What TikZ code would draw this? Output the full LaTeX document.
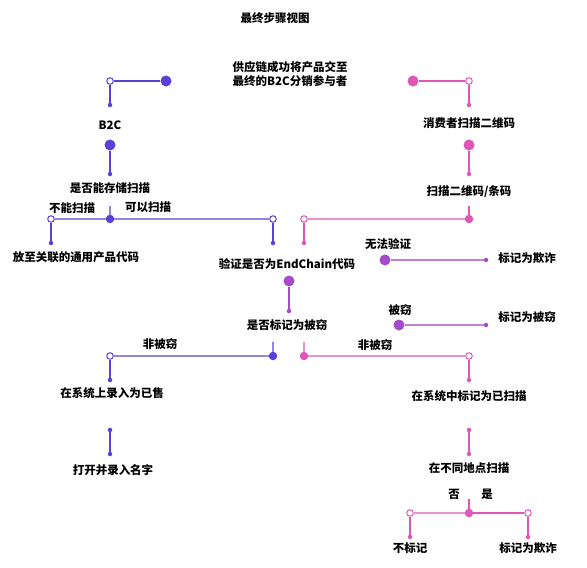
\documentclass[tikz,border=0pt]{standalone}
\usepackage{fontspec}
\setmainfont{Noto Sans CJK SC}
\definecolor{bluev}{HTML}{5B3FD6}
\definecolor{bluel}{HTML}{9386E2}
\definecolor{pinkv}{HTML}{E056B8}
\definecolor{pinkl}{HTML}{E892CE}
\definecolor{violv}{HTML}{A44CC9}
\definecolor{violl}{HTML}{BE82D6}
\tikzset{
	bigdot/.style={circle,fill=#1,inner sep=0pt,minimum size=11pt},
	middot/.style={circle,fill=#1,inner sep=0pt,minimum size=8.5pt},
	smalldot/.style={circle,fill=#1,inner sep=0pt,minimum size=4.5pt},
	opendot/.style={circle,draw=#1,fill=white,line width=1pt,inner sep=0pt,minimum size=6.5pt},
	lbl/.style={font=\bfseries\fontsize{11.5}{14}\selectfont,inner sep=0pt,align=center},
	link/.style={draw=#1,line width=1.8pt},
	thin link/.style={draw=#1,line width=1.3pt}
}
\begin{document}
\begin{tikzpicture}[x=1pt,y=-1pt]
	\useasboundingbox (0,0) rectangle (587,568);
	%
	\node[lbl] (title) at (275,18) {最终步骤视图};
	\node[lbl] (start) at (290,74) {供应链成功将产品交至\\最终的B2C分销参与者};
	%
	% left branch: B2C
	\node[bigdot=bluev] (b0) at (166,81) {};
	\node[opendot=bluev] (b1) at (110,81) {};
	\node[smalldot=bluev] (b2) at (110,105) {};
	\node[lbl] (b2c) at (110,125) {B2C};
	\node[bigdot=bluev] (b3) at (110,145) {};
	\node[smalldot=bluev] (b4) at (110,174) {};
	\node[lbl] (canstore) at (110,188) {是否能存储扫描};
	\node[lbl] (noscan) at (72,208) {不能扫描};
	\node[lbl] (yesscan) at (148,207) {可以扫描};
	\coordinate (b5t) at (110,206);
	\node[middot=bluev] (b5) at (110,219) {};
	\node[opendot=bluev] (b6) at (51,219) {};
	\node[smalldot=bluev] (b7) at (51,243) {};
	\node[lbl] (upc) at (76,257) {放至关联的通用产品代码};
	\node[opendot=bluev] (b8) at (273,219) {};
	\node[smalldot=bluev] (b9) at (273,243) {};
	\draw[link=bluev] (b0) -- (b1) -- (b2) (b3) -- (b4);
	\draw[thin link=bluel] (b5t) -- (b5);
	\draw[thin link=bluel] (b6) -- (b5) -- (b8);
	\draw[link=bluev] (b6) -- (b7) (b8) -- (b9);
	%
	% right branch: consumer
	\node[bigdot=pinkv] (p0) at (413,81) {};
	\node[opendot=pinkv] (p1) at (469,81) {};
	\node[smalldot=pinkv] (p2) at (469,105) {};
	\node[lbl] (consumer) at (469,123) {消费者扫描二维码};
	\node[bigdot=pinkv] (p3) at (469,145) {};
	\node[smalldot=pinkv] (p4) at (469,174) {};
	\node[lbl] (scanqr) at (469,192) {扫描二维码/条码};
	\coordinate (p5t) at (469,206);
	\node[middot=pinkv] (p5) at (469,219) {};
	\node[opendot=pinkv] (p6) at (304,219) {};
	\node[smalldot=pinkv] (p7) at (304,243) {};
	\draw[link=pinkv] (p0) -- (p1) -- (p2) (p3) -- (p4) (p5t) -- (p5);
	\draw[thin link=pinkl] (p5) -- (p6);
	\draw[link=pinkv] (p6) -- (p7);
	%
	% middle: verify
	\node[lbl] (verify) at (287,264) {验证是否为EndChain代码};
	\node[lbl] (cannot) at (388,244) {无法验证};
	\node[bigdot=violv] (v0) at (385,260) {};
	\node[smalldot=violv] (v1) at (486,260) {};
	\node[lbl] (fraud1) at (527,258) {标记为欺诈};
	\node[bigdot=violv] (v2) at (289,281) {};
	\node[smalldot=violv] (v3) at (289,311) {};
	\node[lbl] (stolenq) at (287,325) {是否标记为被窃};
	\node[lbl] (stolen) at (400,310) {被窃};
	\node[bigdot=violv] (v4) at (399,325) {};
	\node[smalldot=violv] (v5) at (486,325) {};
	\node[lbl] (markstolen) at (527,317) {标记为被窃};
	\draw[thin link=violl] (v0) -- (v1) (v4) -- (v5);
	\draw[link=violv] (v2) -- (v3);
	%
	% not stolen, left
	\node[lbl] (notstolenl) at (160,344) {非被窃};
	\coordinate (c0t) at (273,342);
	\node[middot=bluev] (c0) at (273,356) {};
	\node[opendot=bluev] (c1) at (110,356) {};
	\node[smalldot=bluev] (c2) at (110,380) {};
	\node[lbl] (sold) at (112,393) {在系统上录入为已售};
	\node[smalldot=bluev] (c3) at (110,430) {};
	\node[smalldot=bluev] (c4) at (110,454) {};
	\node[lbl] (name) at (113,470) {打开并录入名字};
	\draw[thin link=bluel] (c0t) -- (c0) (c0) -- (c1);
	\draw[link=bluev] (c1) -- (c2);
	\draw[thin link=bluev] (c3) -- (c4);
	%
	% not stolen, right
	\node[lbl] (notstolenr) at (375,345) {非被窃};
	\coordinate (d0t) at (304,342);
	\node[middot=pinkv] (d0) at (304,356) {};
	\node[opendot=pinkv] (d1) at (469,356) {};
	\node[smalldot=pinkv] (d2) at (469,380) {};
	\node[lbl] (scanned) at (469,396) {在系统中标记为已扫描};
	\node[smalldot=pinkv] (d3) at (469,430) {};
	\node[smalldot=pinkv] (d4) at (469,454) {};
	\node[lbl] (elsewhere) at (469,468) {在不同地点扫描};
	\node[lbl] (no) at (454,494) {否};
	\node[lbl] (yes) at (487,494) {是};
	\coordinate (d5t) at (469,499);
	\node[middot=pinkv] (d5) at (469,513) {};
	\node[opendot=pinkv] (d6) at (410,513) {};
	\node[smalldot=pinkv] (d7) at (410,537) {};
	\node[opendot=pinkv] (d8) at (528,513) {};
	\node[smalldot=pinkv] (d9) at (528,537) {};
	\node[lbl] (nomark) at (410,548) {不标记};
	\node[lbl] (fraud2) at (528,548) {标记为欺诈};
	\draw[thin link=pinkl] (d0t) -- (d0) (d0) -- (d1) (d5) -- (d6);
	\draw[link=pinkv] (d1) -- (d2) (d6) -- (d7) (d5t) -- (d5);
	\draw[thin link=pinkv] (d3) -- (d4);
	\draw[line width=2.2pt,pinkv] (d5) -- (d8);
	\draw[link=pinkv] (d8) -- (d9);
\end{tikzpicture}
\end{document}
